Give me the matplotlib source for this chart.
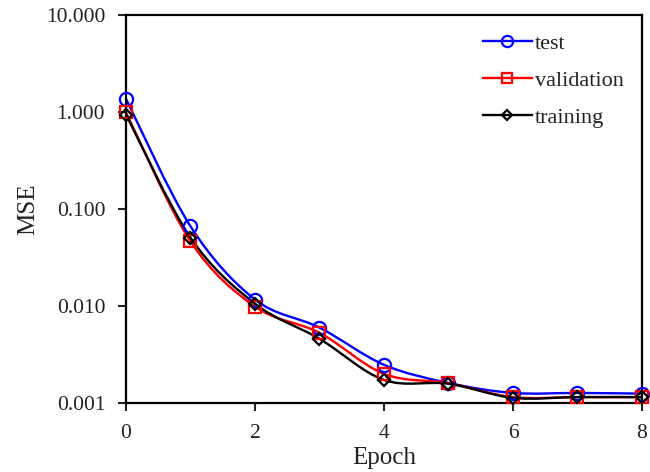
import numpy as np
import matplotlib
matplotlib.use("Agg")
import matplotlib.pyplot as plt
from matplotlib.path import Path
from matplotlib.patches import PathPatch
from matplotlib.lines import Line2D

plt.rcParams['font.family'] = ['Liberation Serif', 'DejaVu Serif']

epochs = [0, 1, 2, 3, 4, 5, 6, 7, 8]
test = [1.38, 0.0667, 0.0117, 0.0060, 0.00248, 0.00161, 0.00127, 0.00127, 0.00125]
validation = [1.00, 0.0466, 0.0099, 0.0053, 0.0020, 0.00160, 0.00115, 0.00115, 0.00115]
training = [0.95, 0.051, 0.0106, 0.0046, 0.00173, 0.00158, 0.00113, 0.00115, 0.00115]
yticks = [0.001, 0.01, 0.1, 1.0, 10.0]
xticks = [0, 2, 4, 6, 8]

series = [
    ("test", test, "#0000ff", "o", 9.5),
    ("validation", validation, "#ff0000", "s", 9.0),
    ("training", training, "#000000", "D", 6.5),
]


def smooth_path(xs, ys):
    # Excel-like smoothed line: Catmull-Rom Bezier in (x, log10 y) space
    x = np.asarray(xs, float)
    ly = np.log10(np.asarray(ys, float))
    pts = np.column_stack([x, ly])
    n = len(pts)
    verts = [pts[0]]
    codes = [Path.MOVETO]
    for i in range(n - 1):
        p0 = pts[i - 1] if i > 0 else pts[i]
        p1 = pts[i]
        p2 = pts[i + 1]
        p3 = pts[i + 2] if i + 2 < n else pts[i + 1]
        c1 = p1 + (p2 - p0) / 6.0
        c2 = p2 - (p3 - p1) / 6.0
        verts += [c1, c2, p2]
        codes += [Path.CURVE4] * 3
    v = np.array(verts)
    v[:, 1] = 10 ** v[:, 1]
    return Path(v, codes)


fig = plt.figure(figsize=(6.5, 4.72), dpi=100)
ax = fig.add_axes([0.1938, 0.1462, 0.7938, 0.821])
ax.set_yscale('log')
ax.set_xlim(0, 8)
ax.set_ylim(0.001, 10)

handles = []
for name, vals, col, mk, ms in series:
    patch = PathPatch(smooth_path(epochs, vals), facecolor='none', edgecolor=col,
                      lw=1.7, transform=ax.transData, clip_on=False)
    ax.add_patch(patch)
    ax.plot(epochs, vals, ls='none', marker=mk, ms=ms, mfc='none', mec=col,
            mew=1.6, clip_on=False, zorder=3)
    handles.append(Line2D([], [], color=col, lw=1.7, marker=mk, ms=ms * 0.85,
                          mfc='none', mec=col, mew=1.6, label=name))

ax.set_yticks(yticks)
ax.set_yticklabels([f"{t:.3f}" for t in yticks])
ax.yaxis.set_minor_locator(matplotlib.ticker.NullLocator())
ax.set_xticks(xticks)
ax.set_xticklabels([str(t) for t in xticks])
ax.tick_params(axis='both', direction='out', length=6, width=1.5,
               labelsize=15.5, pad=9, colors='#222222')
for sp in ax.spines.values():
    sp.set_linewidth(1.6)

ax.set_xlabel("Epoch", fontsize=18, labelpad=3, color='#222222')
ax.set_ylabel("MSE", fontsize=18, labelpad=5, color='#222222')

leg = ax.legend(handles=handles, loc='upper right', bbox_to_anchor=(0.995, 0.995),
                frameon=False, fontsize=16, handlelength=2.2, handletextpad=0.15,
                labelspacing=0.75, borderaxespad=0.3)
for t in leg.get_texts():
    t.set_color('#222222')

fig.savefig("out.png", dpi=100)
